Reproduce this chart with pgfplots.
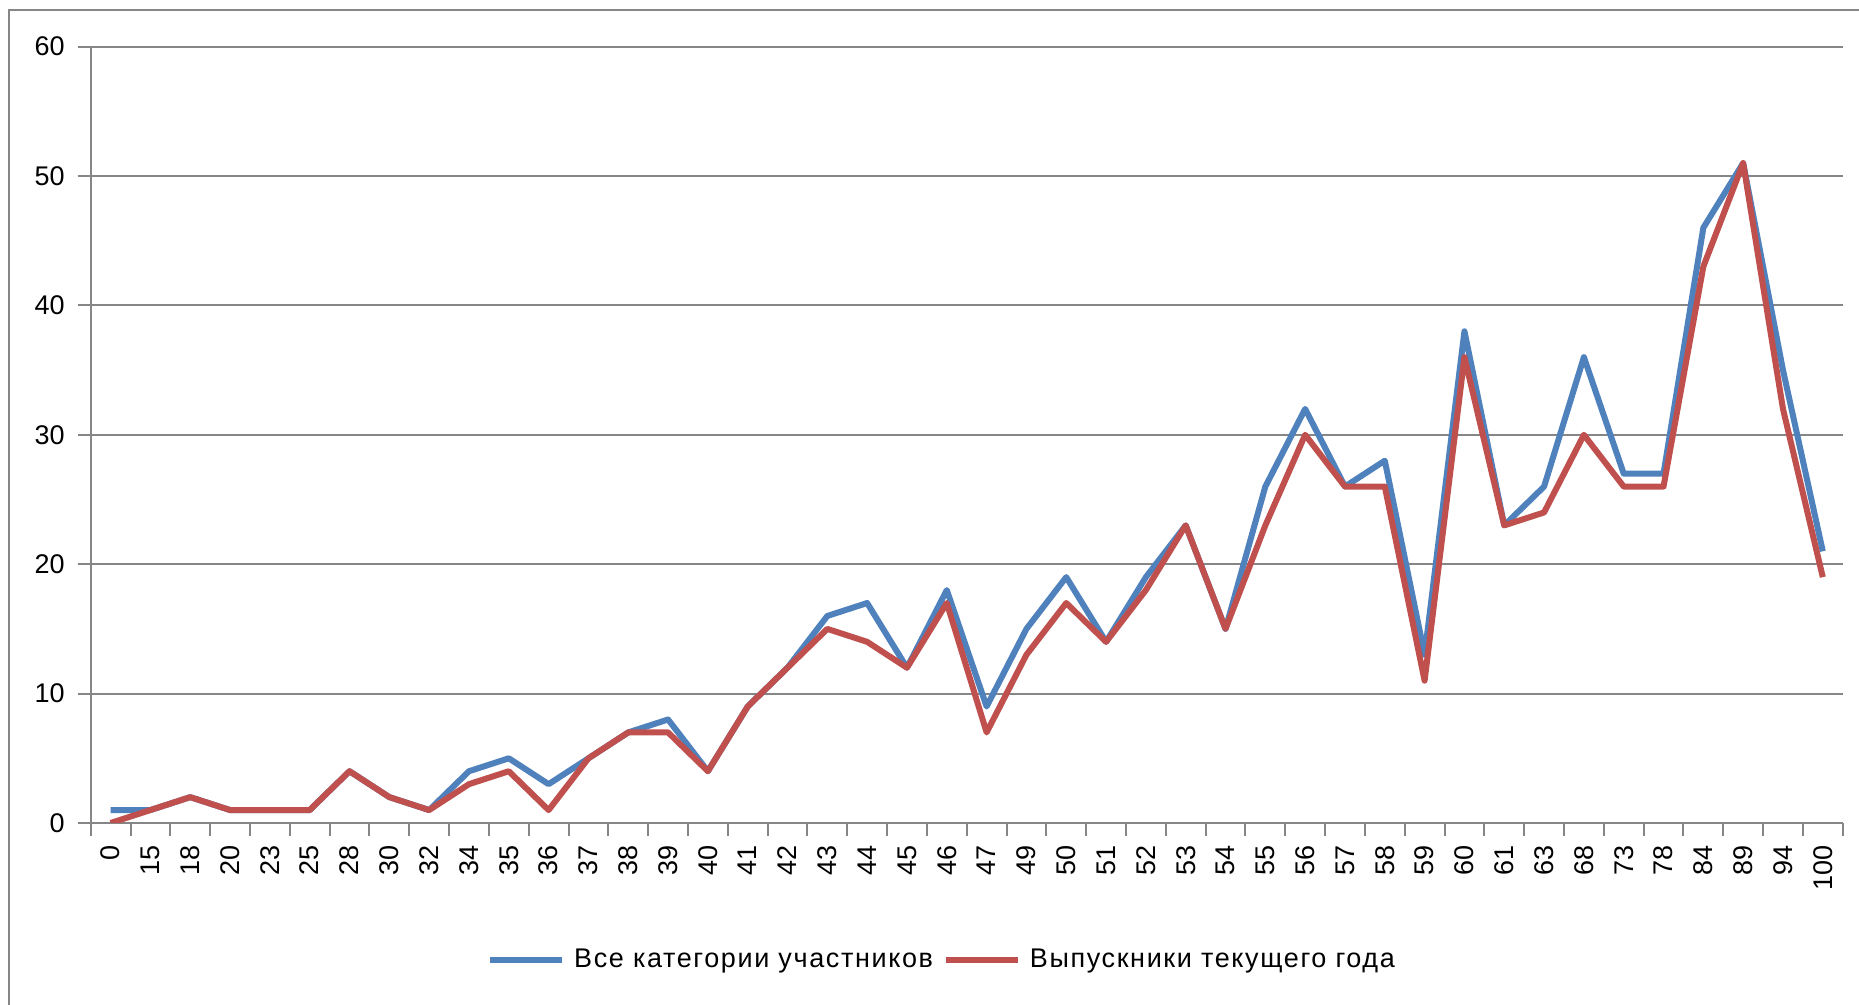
\documentclass[border=0pt]{standalone}
\usepackage{fontspec}
\setmainfont{Liberation Sans}
\usepackage{pgfplots}
\pgfplotsset{compat=1.18}
\usepackage{pgfplotstable}
\definecolor{sblue}{HTML}{4F81BD}
\definecolor{sred}{HTML}{C0504D}
\definecolor{gridgray}{HTML}{868686}

\pgfplotstableread{
idx lab all grad
0 0 1 0
1 15 1 1
2 18 2 2
3 20 1 1
4 23 1 1
5 25 1 1
6 28 4 4
7 30 2 2
8 32 1 1
9 34 4 3
10 35 5 4
11 36 3 1
12 37 5 5
13 38 7 7
14 39 8 7
15 40 4 4
16 41 9 9
17 42 12 12
18 43 16 15
19 44 17 14
20 45 12 12
21 46 18 17
22 47 9 7
23 49 15 13
24 50 19 17
25 51 14 14
26 52 19 18
27 53 23 23
28 54 15 15
29 55 26 23
30 56 32 30
31 57 26 26
32 58 28 26
33 59 13 11
34 60 38 36
35 61 23 23
36 63 26 24
37 68 36 30
38 73 27 26
39 78 27 26
40 84 46 43
41 89 51 51
42 94 35 32
43 100 21 19
}\datatable

\begin{document}
\begin{tikzpicture}
\useasboundingbox (0bp,0bp) rectangle (929.5bp,502.5bp);
\fill[white] (0bp,0bp) rectangle (929.5bp,502.5bp);
\draw[gridgray, line width=1bp] (4.5bp,0bp) -- (4.5bp,497.5bp) -- (929.5bp,497.5bp);
\begin{axis}[
  at={(45.35bp,91bp)}, anchor=south west,
  scale only axis, width=876bp, height=388.2bp,
  xmin=-0.5, xmax=43.5, ymin=0, ymax=60,
  axis lines*=left,
  axis line style={gridgray, line width=1bp},
  ytick={0,10,...,60},
  minor ytick={0,10,...,60},
  ymajorgrids,
  grid style={gridgray, line width=1bp},
  xtick={0,...,43},
  xticklabels from table={\datatable}{lab},
  minor xtick={-0.5,0.5,...,43.5},
  major tick length=0pt,
  minor tick length=6.5bp,
  tick align=outside,
  tick style={gridgray, line width=1bp},
  /pgf/number format/assume math mode=true,
  ticklabel style={font=\fontsize{13.5bp}{16bp}\selectfont, text=black},
  xticklabel style={yshift=-11bp, rotate=90, anchor=east, inner sep=0pt},
  yticklabel style={anchor=east, inner sep=0pt, xshift=-12.85bp},
  legend columns=2,
  legend style={at={(0.4853,-0.1765)}, anchor=center, draw=none, fill=none,
    font=\fontsize{13.5bp}{16bp}\selectfont\addfontfeature{LetterSpace=6},
    nodes={inner sep=0pt},
    /tikz/every odd column/.append style={column sep=4.5bp},
    /tikz/every even column/.append style={column sep=5bp}},
  legend image code/.code={\draw[#1, line width=3bp] (0bp,0bp) -- (36bp,0bp);},
]
\addplot[sblue, line width=3bp, line join=round] table[x=idx, y=all] {\datatable};
\addlegendentry{Все категории участников}
\addplot[sred, line width=3bp, line join=round] table[x=idx, y=grad] {\datatable};
\addlegendentry{Выпускники текущего года}
\end{axis}
\end{tikzpicture}
\end{document}
